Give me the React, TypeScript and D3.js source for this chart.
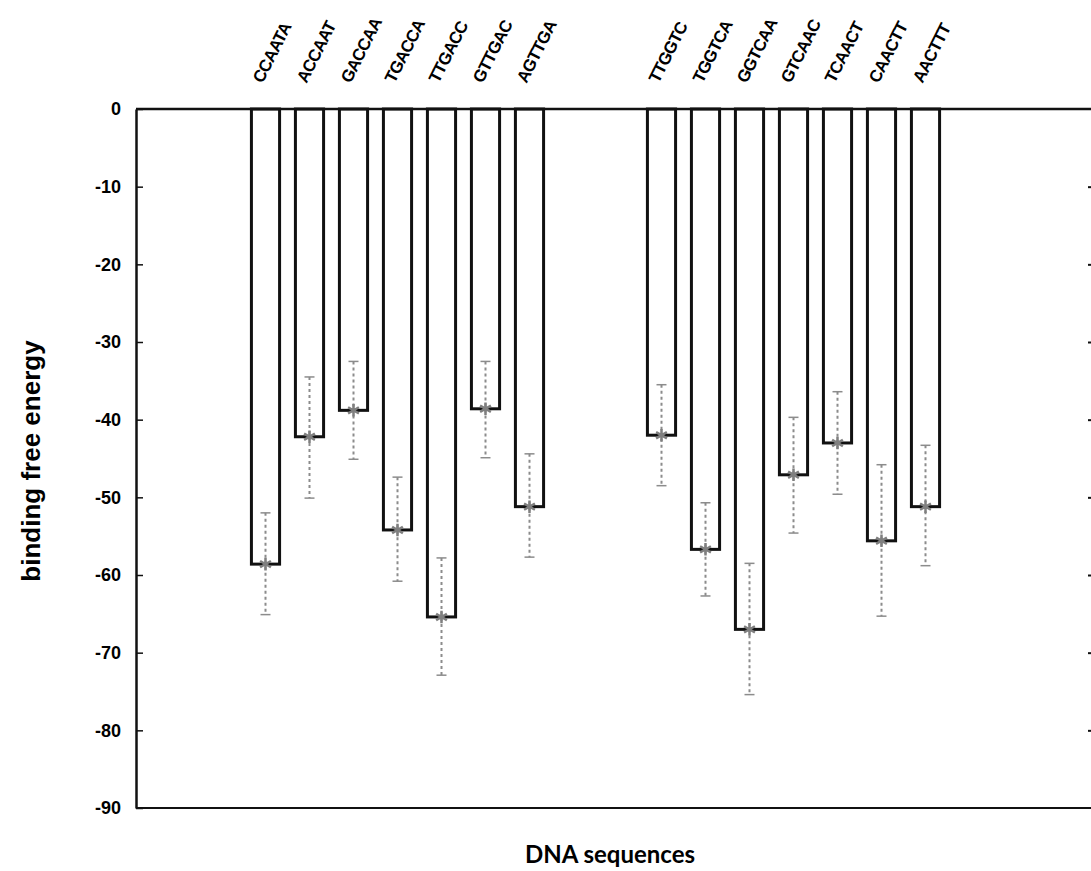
import React, { useEffect, useRef } from 'react';
import * as d3 from 'd3';

// sequences, left and right groups
const groupA = ['CCAATA', 'ACCAAT', 'GACCAA', 'TGACCA', 'TTGACC', 'GTTGAC', 'AGTTGA'];
const groupB = ['TTGGTC', 'TGGTCA', 'GGTCAA', 'GTCAAC', 'TCAACT', 'CAACTT', 'AACTTT'];
const energyA = [-58.6, -42.2, -38.8, -54.2, -65.4, -38.6, -51.2];
const energyB = [-42.0, -56.7, -67.0, -47.1, -43.0, -55.6, -51.2];
const errHighA = [-52.0, -34.5, -32.5, -47.4, -57.8, -32.5, -44.4];
const errLowA = [-65.1, -50.1, -45.1, -60.8, -72.9, -44.9, -57.7];
const errHighB = [-35.5, -50.7, -58.5, -39.7, -36.4, -45.8, -43.3];
const errLowB = [-48.5, -62.7, -75.4, -54.6, -49.6, -65.3, -58.8];
const yTicks = [0, -10, -20, -30, -40, -50, -60, -70, -80, -90];

const W = 1091;
const H = 871;

const App = () => {
  const ref = useRef<SVGSVGElement>(null);

  useEffect(() => {
    const svg = d3.select(ref.current);
    svg.selectAll('*').remove();

    const left = 136;
    const top = 109;
    const bottom = 808;

    // two blank slots between the groups
    const slots = [...groupA, 'gap1', 'gap2', ...groupB];
    const data = [
      ...groupA.map((s, i) => ({ seq: s, v: energyA[i], hi: errHighA[i], lo: errLowA[i] })),
      ...groupB.map((s, i) => ({ seq: s, v: energyB[i], hi: errHighB[i], lo: errLowB[i] })),
    ];

    const x = d3.scaleBand()
      .domain(slots)
      .range([243.5, 243.5 + 44 * slots.length])
      .paddingInner(0.36)
      .paddingOuter(0.18);

    const y = d3.scaleLinear().domain([0, -90]).range([top, bottom]);

    const font = 'Arial, "Liberation Sans", sans-serif';

    // bars
    svg.append('g')
      .selectAll('rect')
      .data(data)
      .enter()
      .append('rect')
      .attr('x', d => x(d.seq)!)
      .attr('y', y(0))
      .attr('width', x.bandwidth())
      .attr('height', d => y(d.v) - y(0))
      .attr('fill', 'white')
      .attr('stroke', '#111')
      .attr('stroke-width', 3);

    // error bars
    const eb = svg.append('g').attr('stroke', '#8c8c8c');
    data.forEach(d => {
      const cx = x(d.seq)! + x.bandwidth() / 2;
      eb.append('line')
        .attr('x1', cx).attr('x2', cx)
        .attr('y1', y(d.hi)).attr('y2', y(d.lo))
        .attr('stroke-width', 2)
        .attr('stroke-dasharray', '3,3');
      [d.hi, d.lo].forEach(v => {
        eb.append('line')
          .attr('x1', cx - 5).attr('x2', cx + 5)
          .attr('y1', y(v)).attr('y2', y(v))
          .attr('stroke-width', 1.5);
      });
    });

    // asterisk markers
    const asterisk = (d3 as any).symbolAsterisk || {
      draw(ctx: any, size: number) {
        const r = Math.sqrt(size) * 0.6;
        for (let k = 0; k < 3; k++) {
          const a = (Math.PI / 3) * k + Math.PI / 2;
          ctx.moveTo(-r * Math.cos(a), -r * Math.sin(a));
          ctx.lineTo(r * Math.cos(a), r * Math.sin(a));
        }
      },
    };
    svg.append('g')
      .selectAll('path')
      .data(data)
      .enter()
      .append('path')
      .attr('transform', d => `translate(${x(d.seq)! + x.bandwidth() / 2},${y(d.v)})`)
      .attr('d', d3.symbol().type(asterisk).size(110)!)
      .attr('fill', 'none')
      .attr('stroke', '#7f7f7f')
      .attr('stroke-width', 2.5);

    // frame lines
    svg.append('line')
      .attr('x1', left).attr('x2', W + 2)
      .attr('y1', top).attr('y2', top)
      .attr('stroke', '#111').attr('stroke-width', 2.5);
    svg.append('line')
      .attr('x1', left).attr('x2', W + 2)
      .attr('y1', bottom).attr('y2', bottom)
      .attr('stroke', '#111').attr('stroke-width', 2);

    // left axis, ticks point inward
    const yAxis = svg.append('g')
      .attr('transform', `translate(${left},0)`)
      .call(d3.axisLeft(y).tickValues(yTicks).tickSizeInner(-7).tickSizeOuter(0).tickPadding(15)
        .tickFormat(d => String(d)));
    yAxis.select('.domain').attr('stroke', '#111').attr('stroke-width', 2.5);
    yAxis.selectAll('.tick line').attr('stroke', '#111').attr('stroke-width', 1.5);
    yAxis.selectAll('.tick text')
      .attr('font-family', font)
      .attr('font-weight', 'bold')
      .attr('font-size', 18)
      .attr('fill', '#000');

    // right axis, mostly off the page
    const rAxis = svg.append('g')
      .attr('transform', `translate(${W + 2},0)`)
      .call(d3.axisRight(y).tickValues(yTicks.slice(1, -1)).tickSizeInner(-5).tickSizeOuter(0).tickFormat(() => ''));
    rAxis.select('.domain').attr('stroke', '#111').attr('stroke-width', 2);
    rAxis.selectAll('.tick line').attr('stroke', '#111').attr('stroke-width', 2);

    // sequence labels above bars
    svg.append('g')
      .selectAll('text')
      .data(data)
      .enter()
      .append('text')
      .attr('transform', d => `translate(${x(d.seq)! + x.bandwidth() / 2 - 3},84) rotate(-63)`)
      .attr('font-family', font)
      .attr('font-weight', 'bold')
      .attr('font-size', 17)
      .attr('letter-spacing', -0.8)
      .text(d => d.seq);

    // axis titles
    svg.append('text')
      .attr('transform', `translate(40,461) rotate(-90)`)
      .attr('text-anchor', 'middle')
      .attr('font-family', font)
      .attr('font-weight', 'bold')
      .attr('font-size', 26)
      .text('binding free energy');

    svg.append('text')
      .attr('x', 610)
      .attr('y', 863)
      .attr('text-anchor', 'middle')
      .attr('font-family', 'Lato, "Open Sans", sans-serif')
      .attr('font-weight', 'bold')
      .attr('font-size', 24)
      .text('DNA sequences');
  }, []);

  return (
    <svg
      ref={ref}
      width={W}
      height={H}
      style={{ position: 'absolute', left: 0, top: 0, background: 'white' }}
    />
  );
};

export default App;
